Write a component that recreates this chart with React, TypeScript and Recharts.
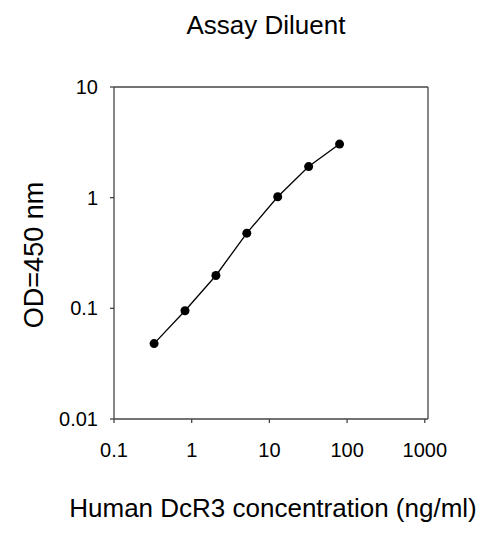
import React from 'react';
import { LineChart, Line, XAxis, YAxis, ReferenceLine, Label } from 'recharts';

const concentrations = [0.328, 0.82, 2.05, 5.12, 12.8, 32, 80];
const odValues = [0.048, 0.095, 0.198, 0.478, 1.02, 1.91, 3.05];
const xTicks = [0.1, 1, 10, 100, 1000];
const yTicks = [0.01, 0.1, 1, 10];
const titleText = 'Assay Diluent';
const xLabel = 'Human DcR3 concentration (ng/ml)';
const yLabel = 'OD=450 nm';

const data = concentrations.map((c, i) => ({ conc: c, od: odValues[i] }));

const FONT = '"Liberation Sans", Arial, Helvetica, sans-serif';
const AXIS = '#444';

export default function App() {
  return (
    <div style={{ position: 'absolute', left: 0, top: 0, width: 500, height: 541, background: '#fff' }}>
      <LineChart width={500} height={541} data={data} margin={{ top: 87, right: 72, bottom: 0, left: 0 }}>
        <text x={266} y={34} textAnchor="middle" fontSize={26} fontFamily={FONT} fill="#000">
          {titleText}
        </text>
        <XAxis
          dataKey="conc"
          type="number"
          scale="log"
          domain={[0.1, 1100]}
          allowDataOverflow
          ticks={xTicks}
          interval={0}
          height={122}
          tickSize={4}
          tickMargin={20}
          stroke={AXIS}
          strokeWidth={1.3}
          tick={{ fill: '#000', fontSize: 20, fontFamily: FONT }}
        >
          <Label value={xLabel} position="insideBottom" offset={24} dx={2} fontSize={26} fontFamily={FONT} fill="#000" />
        </XAxis>
        <YAxis
          dataKey="od"
          type="number"
          scale="log"
          domain={[0.01, 10]}
          allowDataOverflow
          ticks={yTicks}
          interval={0}
          width={114}
          tickSize={4}
          tickMargin={12}
          stroke={AXIS}
          strokeWidth={1.3}
          tick={{ fill: '#000', fontSize: 20, fontFamily: FONT }}
        >
          <Label value={yLabel} position="center" angle={-90} dx={-24} dy={2} fontSize={27} fontFamily={FONT} fill="#000" />
        </YAxis>
        <ReferenceLine y={10} stroke={AXIS} strokeWidth={1.3} />
        <ReferenceLine x={1100} stroke={AXIS} strokeWidth={1.3} />
        <Line
          type="linear"
          dataKey="od"
          stroke="#000"
          strokeWidth={1.3}
          dot={{ r: 4.5, fill: '#000', stroke: 'none' }}
          isAnimationActive={false}
        />
      </LineChart>
    </div>
  );
}
